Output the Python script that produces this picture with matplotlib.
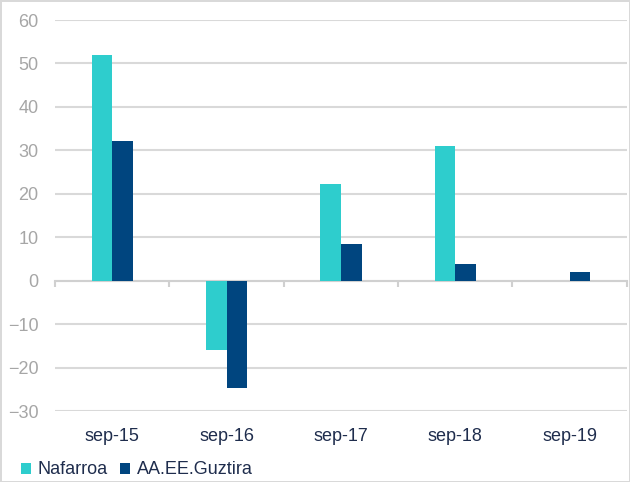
import matplotlib.pyplot as plt
import numpy as np

plt.rcParams['font.family'] = ['Liberation Sans', 'DejaVu Sans']

categories = ["sep-15", "sep-16", "sep-17", "sep-18", "sep-19"]
nafarroa = [52.0, -15.9, 22.2, 30.9, np.nan]
guztira = [32.2, -24.6, 8.4, 3.8, 2.0]
y_ticks = [-30, -20, -10, 0, 10, 20, 30, 40, 50, 60]

fig = plt.figure(figsize=(6.3, 4.82), dpi=100)
fig.patch.set_edgecolor('#d9d9d9')
fig.patch.set_linewidth(2)
ax = fig.add_axes([0.0873, 0.1473, 0.9077, 0.8112])

x = np.arange(len(categories))
w = 0.18
ax.bar(x - w/2, nafarroa, width=w, color='#2ecdcd', label='Nafarroa', zorder=3)
ax.bar(x + w/2, guztira, width=w, color='#00457f', label='AA.EE.Guztira', zorder=3)

ax.set_ylim(-30, 60)
ax.set_xlim(-0.5, len(categories) - 0.5)
ax.set_yticks(y_ticks)
ax.yaxis.grid(True, color='#d9d9d9', linewidth=1.5, zorder=0)
ax.tick_params(axis='y', length=0, pad=12, labelsize=13, labelcolor='#a6a6a6')

for s in ['left', 'right', 'top']:
    ax.spines[s].set_visible(False)
ax.spines['bottom'].set_position(('data', 0))
ax.spines['bottom'].set_color('#d0d0d0')
ax.spines['bottom'].set_linewidth(1.5)
ax.spines['bottom'].set_zorder(2)

ax.set_xticks(x)
ax.set_xticklabels(categories)
ax.set_xticks(np.arange(len(categories) + 1) - 0.5, minor=True)
ax.tick_params(axis='x', which='major', length=0, pad=106, labelsize=13, labelcolor='#1f2d4d')
ax.tick_params(axis='x', which='minor', length=4, width=1.5, color='#d0d0d0')

fig.legend(loc='center left', bbox_to_anchor=(0.034, 0.025), ncol=2, frameon=False,
           fontsize=13, handlelength=0.55, handleheight=0.55, handletextpad=0.35,
           columnspacing=0.7, labelcolor='#1f2d4d', borderaxespad=0, borderpad=0)

fig.savefig('out.png', dpi=100)
